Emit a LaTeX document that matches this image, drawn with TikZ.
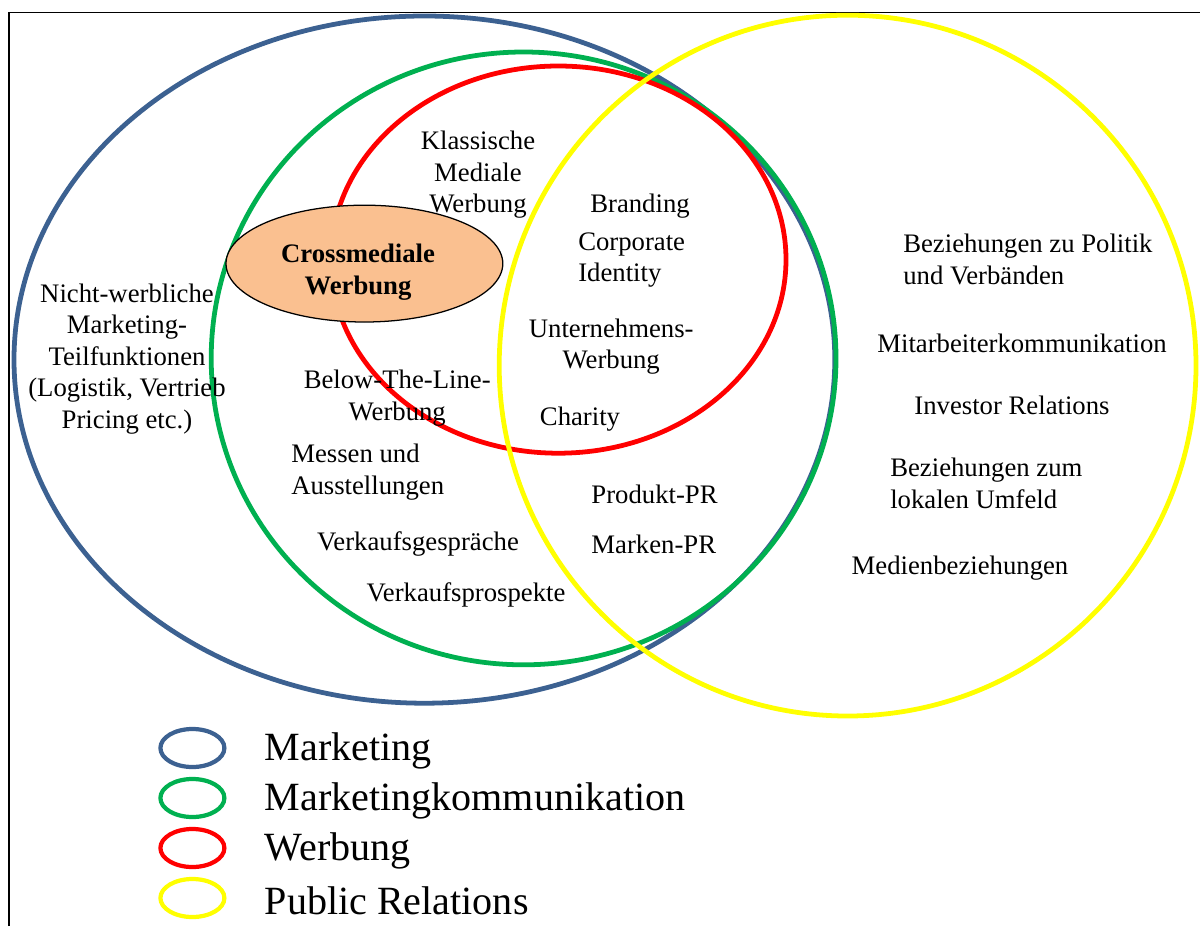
\documentclass[tikz,border=0pt]{standalone}
\usepackage{fontspec}
\setmainfont{Liberation Serif}
\usetikzlibrary{shapes.geometric,positioning}
\definecolor{mblue}{HTML}{3C6191}
\definecolor{mgreen}{HTML}{00B050}
\definecolor{wred}{HTML}{FF0000}
\definecolor{pryel}{HTML}{FFFF00}
\definecolor{crossfill}{HTML}{FAC090}
\tikzset{
  ring/.style={ellipse,draw=#1,line width=3.4pt,inner sep=0pt},
  vtext/.style={font=\fontsize{19}{22.4}\selectfont,align=center,inner sep=0pt},
  vtextL/.style={vtext,align=left,anchor=west},
  crossbox/.style={ellipse,draw,line width=0.9pt,fill=crossfill,inner sep=0pt,
    minimum width=6.92cm,minimum height=2.92cm},
  legring/.style={ellipse,draw=#1,line width=3pt,inner sep=0pt,minimum width=1.6cm,minimum height=0.95cm},
  leglab/.style={font=\fontsize{28.5}{34}\selectfont,inner sep=0pt,anchor=west},
}

\begin{document}
\begin{tikzpicture}
\useasboundingbox (0,0) rectangle (30,-23.15);
% ---- frame, open to the right and bottom
\draw[line width=1.2pt] (0.225,-23.15) |- (30,-0.31);
% ---- the four fields
\node[ring=mblue,minimum width=20.52cm,minimum height=17.18cm] (marketing) at (10.61,-8.99) {};
\node[ring=mgreen,minimum width=15.62cm,minimum height=15.32cm] (mkomm) at (13.09,-8.96) {};
\node[ring=wred,minimum width=11.38cm,minimum height=9.68cm] (werbung) at (13.96,-6.49) {};
\node[ring=pryel,minimum width=17.42cm,minimum height=17.52cm] (pr) at (21.19,-9.14) {};
% ---- crossmedial advertising sits on top
\node[crossbox] (cross) at (9.11,-6.59) {};
\node[vtext,font=\fontsize{19}{22.4}\selectfont\bfseries] (crosstxt) at (8.95,-6.8) {Crossmediale\\Werbung};
% ---- labels inside the fields
\node[vtext] (klassisch) at (11.95,-4.37) {Klassische\\Mediale\\Werbung};
\node[vtext] (branding) at (16.0,-5.15) {Branding};
\node[vtextL] (ci) at (14.45,-6.5) {Corporate\\Identity};
\node[vtext] (nichtwerb) at (3.175,-8.97) {Nicht-werbliche\\Marketing-\\Teilfunktionen\\(Logistik, Vertrieb\\Pricing etc.)};
\node[vtext] (unternehmen) at (15.28,-8.67) {Unternehmens-\\Werbung};
\node[vtext] (btl) at (9.93,-9.95) {Below-The-Line-\\Werbung};
\node[vtext] (charity) at (14.5,-10.47) {Charity};
\node[vtextL] (messen) at (7.275,-11.8) {Messen und\\Ausstellungen};
\node[vtextL] (produktpr) at (14.78,-12.37) {Produkt-PR};
\node[vtextL] (markenpr) at (14.78,-13.6) {Marken-PR};
\node[vtext] (vgespraech) at (10.45,-13.6) {Verkaufsgespräche};
\node[vtext] (vprospekt) at (11.65,-14.87) {Verkaufsprospekte};
% ---- public relations only
\node[vtextL] (politik) at (22.575,-6.48) {Beziehungen zu Politik\\und Verbänden};
\node[vtext] (mitarbeiter) at (25.55,-8.58) {Mitarbeiterkommunikation};
\node[vtext] (investor) at (25.3,-10.13) {Investor Relations};
\node[vtextL] (umfeld) at (22.25,-12.08) {Beziehungen zum\\lokalen Umfeld};
\node[vtext] (medien) at (24.0,-14.2) {Medienbeziehungen};
% ---- legend
\foreach \C/\T [count=\i] in {mblue/Marketing,mgreen/Marketingkommunikation,wred/Werbung,pryel/Public Relations}{
  \node[legring=\C] (leg\i) at (4.81,{-18.7-1.25*(\i-1)}) {};
  \node[leglab,right=0.95cm of leg\i,yshift=-0.08cm] (legtxt\i) {\T};
}
\end{tikzpicture}
\end{document}
